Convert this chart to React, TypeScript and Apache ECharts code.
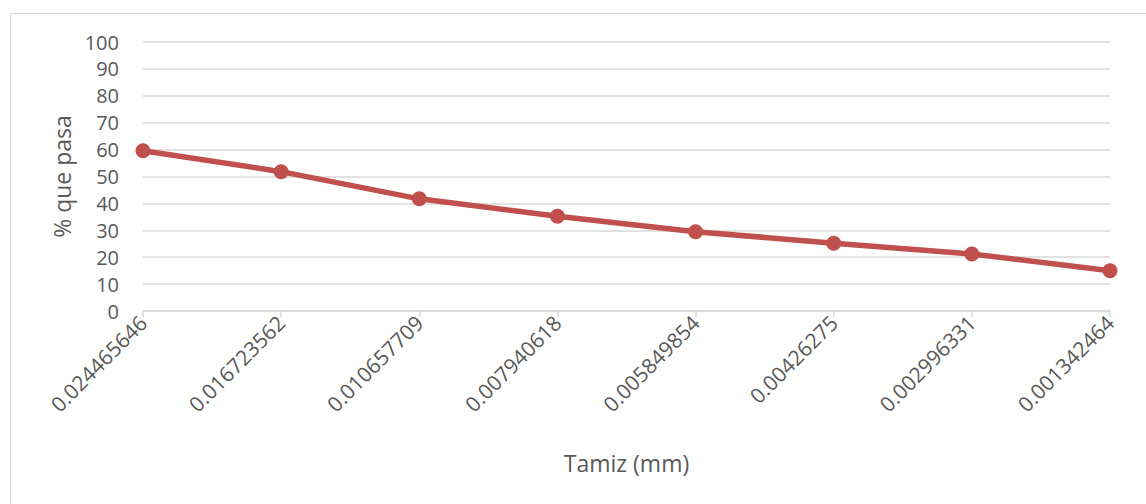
import React, { useEffect, useRef } from "react";
import * as echarts from "echarts";

const categories = [
  "0.024465646",
  "0.016723562",
  "0.010657709",
  "0.007940618",
  "0.005849854",
  "0.00426275",
  "0.002996331",
  "0.001342464",
];
const pctPassing = [59.6, 51.8, 41.7, 35.2, 29.5, 25.2, 21.2, 15.0];

export default function App() {
  const ref = useRef<HTMLDivElement>(null);
  useEffect(() => {
    document.body.style.margin = "0";
    if (!ref.current) return;
    const chart = echarts.init(ref.current, null, { renderer: "svg" });
    const font = "'Open Sans', sans-serif";
    chart.setOption({
      animation: false,
      backgroundColor: "#ffffff",
      grid: { left: 143, right: 36, top: 42, bottom: 193, containLabel: false },
      graphic: [
        {
          type: "rect",
          shape: { x: 10.5, y: 13.5, width: 1200, height: 600 },
          style: { fill: "none", stroke: "#d9d9d9", lineWidth: 1 },
          silent: true,
        },
      ],
      xAxis: {
        type: "category",
        data: categories,
        boundaryGap: false,
        name: "Tamiz (mm)",
        nameLocation: "middle",
        nameGap: 140,
        nameTextStyle: { color: "#595959", fontSize: 23, fontFamily: font },
        axisLine: { lineStyle: { color: "#d9d9d9", width: 1.5 } },
        axisTick: { show: true, length: 6, lineStyle: { color: "#d9d9d9", width: 1.5 } },
        axisLabel: {
          rotate: 45,
          color: "#595959",
          fontSize: 21,
          fontFamily: font,
          margin: 8,
          interval: 0,
        },
        splitLine: { show: false },
      },
      yAxis: {
        type: "value",
        min: 0,
        max: 100,
        interval: 10,
        name: "% que pasa",
        nameLocation: "middle",
        nameGap: 68,
        nameTextStyle: { color: "#595959", fontSize: 23, fontFamily: font },
        axisLine: { show: false },
        axisTick: { show: false },
        axisLabel: { color: "#595959", fontSize: 20, fontFamily: font, margin: 24 },
        splitLine: { lineStyle: { color: "#d9d9d9", width: 1.5 } },
      },
      series: [
        {
          type: "line",
          data: pctPassing,
          symbol: "circle",
          symbolSize: 15,
          lineStyle: { color: "#c0504d", width: 5.5 },
          itemStyle: { color: "#c0504d" },
        },
      ],
    });
    return () => chart.dispose();
  }, []);
  return <div ref={ref} style={{ width: 1146, height: 504 }} />;
}
